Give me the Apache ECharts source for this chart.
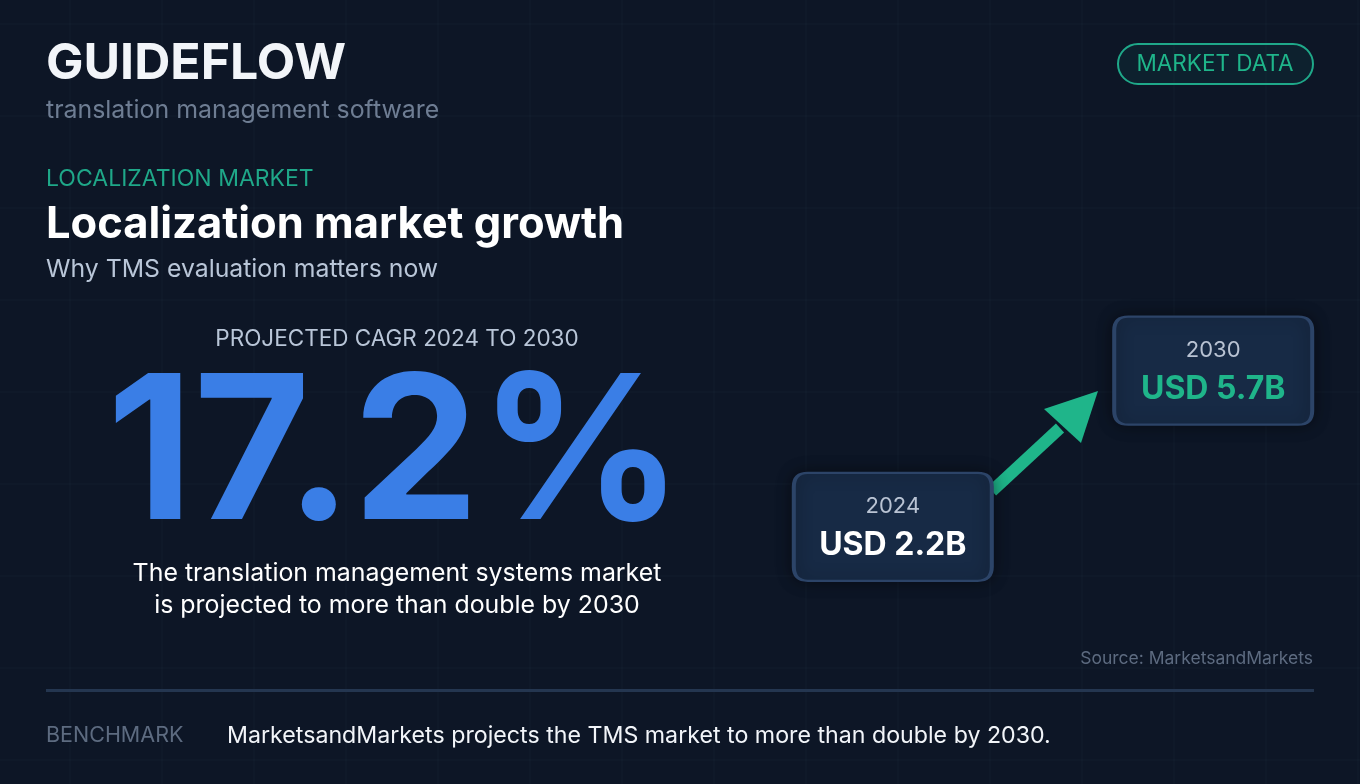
<!DOCTYPE html>
<html>
<head>
<meta charset="utf-8">
<script src="https://cdn.jsdelivr.net/npm/echarts@6/dist/echarts.min.js"></script>
<style>html,body{margin:0;padding:0;background:#0d1626;}#chart{width:1360px;height:784px;}</style>
</head>
<body>
<div id="chart"></div>
<script>
// 数据
const years = [2024, 2030];
const marketSize = [2.2, 5.7];        // USD billions
const sizeLabels = ['USD 2.2B', 'USD 5.7B'];
const cagr = '17.2%';

const FONT = 'Inter, Roboto, sans-serif';
let chart = echarts.init(document.getElementById('chart'));

// 背景网格
let gridLines = [];
for (let x = 70; x < 1360; x += 92) {
    gridLines.push({ type: 'line', silent: true, z: -1,
        shape: { x1: x, y1: 0, x2: x, y2: 784 },
        style: { stroke: 'rgba(60,80,110,0.12)', lineWidth: 1 } });
}
for (let y = 24; y < 784; y += 92) {
    gridLines.push({ type: 'line', silent: true, z: -1,
        shape: { x1: 0, y1: y, x2: 1360, y2: y },
        style: { stroke: 'rgba(60,80,110,0.12)', lineWidth: 1 } });
}

function txt(x, y, text, size, color, weight, align) {
    return { type: 'text', x: x, y: y, style: {
        text: text, fill: color, fontSize: size, fontWeight: weight || 'normal',
        fontFamily: FONT, textAlign: align || 'left', textVerticalAlign: 'middle' } };
}

let option = {
    backgroundColor: '#0d1626',
    grid: { left: 786, right: 40, top: 268, bottom: 159 },
    xAxis: { type: 'value', min: 2022, max: 2032, show: false },
    yAxis: { type: 'value', min: 0, max: 8, show: false },
    series: [{
        type: 'scatter',
        symbol: 'path://M14,0 L184,0 Q198,0 198,14 L198,94 Q198,108 184,108 L14,108 Q0,108 0,94 L0,14 Q0,0 14,0 Z',
        symbolSize: [198, 108],
        data: years.map((y, i) => ({
            value: [y, marketSize[i]],
            label: { rich: { v: { color: i ? '#1fb58a' : '#ffffff' } } }
        })),
        itemStyle: { color: '#172a45', borderColor: '#2c4468', borderWidth: 3, opacity: 1,
            shadowBlur: 16, shadowColor: 'rgba(0,0,0,0.45)' },
        label: {
            show: true, position: 'inside',
            formatter: p => '{y|' + years[p.dataIndex] + '}\n{v|' + sizeLabels[p.dataIndex] + '}',
            rich: {
                y: { fontSize: 22, color: '#b9c3d3', fontFamily: FONT, lineHeight: 38 },
                v: { fontSize: 32, fontWeight: 'bold', fontFamily: FONT, lineHeight: 40 }
            }
        },
        emphasis: { disabled: true }
    }],
    graphic: gridLines.concat([
        txt(46, 64, 'GUIDEFLOW', 50, '#f2f5f9', 'bold'),
        txt(46, 111, 'translation management software', 24.9, '#6e7d93'),
        txt(46, 179, 'LOCALIZATION MARKET', 23, '#1fa889'),
        txt(46, 225, 'Localization market growth', 43.5, '#ffffff', 'bold'),
        txt(46, 270, 'Why TMS evaluation matters now', 24.8, '#b9c6d8'),
        { type: 'rect', shape: { x: 1118, y: 44, width: 195, height: 40, r: 20 },
          style: { fill: 'rgba(31,168,137,0.08)', stroke: '#1fa889', lineWidth: 2 } },
        txt(1215, 64, 'MARKET DATA', 22.5, '#1fb58a', 'normal', 'center'),
        txt(397, 339, 'PROJECTED CAGR 2024 TO 2030', 22.5, '#b9c6d8', 'normal', 'center'),
        txt(395, 459, cagr, 201, '#3a7ee6', 'bold', 'center'),
        txt(397, 574, 'The translation management systems market', 24.9, '#ffffff', 'normal', 'center'),
        txt(397, 606, 'is projected to more than double by 2030', 24.9, '#ffffff', 'normal', 'center'),
        // 箭头
        { type: 'line', shape: { x1: 992, y1: 491, x2: 1060, y2: 428 },
          style: { stroke: '#1fb58a', lineWidth: 12 } },
        { type: 'polygon', shape: { points: [[1098, 391], [1044, 409], [1081, 443]] },
          style: { fill: '#1fb58a' } },
        txt(1313, 659, 'Source: MarketsandMarkets', 17.5, '#5d6b80', 'normal', 'right'),
        { type: 'rect', shape: { x: 46, y: 689, width: 1268, height: 3 },
          style: { fill: '#243650' } },
        txt(46, 736, 'BENCHMARK', 21.5, '#5d6b80'),
        txt(227, 736, 'MarketsandMarkets projects the TMS market to more than double by 2030.', 23.2, '#f2f5f9')
    ])
};
chart.setOption(option);
</script>
</body>
</html>
